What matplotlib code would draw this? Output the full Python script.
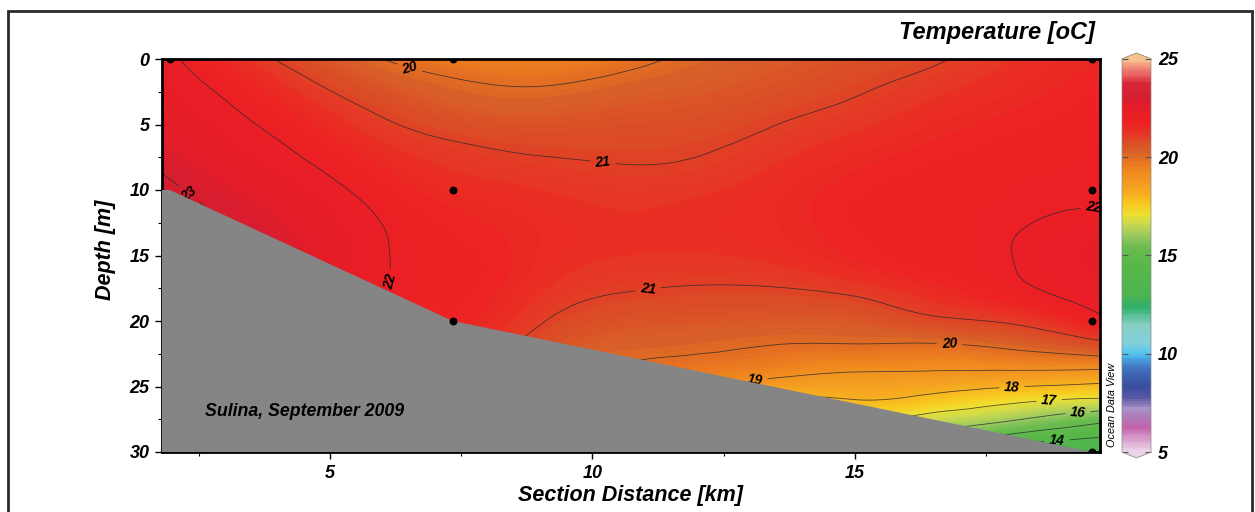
import numpy as np
import matplotlib
matplotlib.use('Agg')
import matplotlib.pyplot as plt
import matplotlib.tri as mtri
from matplotlib.colors import LinearSegmentedColormap
from matplotlib.patches import Rectangle

plt.rcParams['font.family'] = ['Liberation Sans', 'DejaVu Sans']

# section grid: distance along the transect (km) and depth (m)
distance_km = [1.8, 3.0, 4.5, 6.0, 7.5, 9.0, 10.5, 12.0, 13.5, 15.0, 16.5, 18.0, 19.67]
depth_m = [0, 2, 4, 6, 8, 10, 12, 14, 16, 18, 20, 22, 24, 26, 28, 30]

# gridded temperature (degC), one profile per distance, surface to 30 m
temp_c = [
    [22.2, 22.35, 22.5, 22.65, 22.9, 23.15, 23.3, 23.35, 23.35, 23.3, 23.25, 23.2, 23.1, 23.0, 22.9, 22.8],
    [21.5, 21.85, 22.1, 22.3, 22.5, 22.75, 22.95, 23.05, 23.1, 23.1, 23.05, 23.0, 22.9, 22.8, 22.7, 22.6],
    [20.7, 21.15, 21.5, 21.8, 22.05, 22.3, 22.5, 22.65, 22.75, 22.8, 22.8, 22.7, 22.6, 22.5, 22.4, 22.3],
    [20.0, 20.5, 20.92, 21.25, 21.55, 21.78, 21.96, 22.04, 22.05, 22.05, 22.0, 21.9, 21.8, 21.7, 21.6, 21.5],
    [19.55, 20.1, 20.5, 20.93, 21.22, 21.45, 21.62, 21.72, 21.78, 21.75, 21.65, 21.45, 21.1, 20.7, 20.3, 19.9],
    [19.45, 19.98, 20.4, 20.78, 21.08, 21.3, 21.45, 21.5, 21.45, 21.3, 21.05, 20.7, 20.3, 19.8, 19.2, 18.6],
    [19.75, 20.2, 20.55, 20.8, 21.0, 21.2, 21.32, 21.35, 21.22, 20.98, 20.62, 20.25, 19.8, 19.2, 18.5, 17.8],
    [20.15, 20.4, 20.65, 20.87, 21.05, 21.25, 21.37, 21.35, 21.18, 20.88, 20.52, 20.13, 19.55, 18.85, 18.0, 17.0],
    [20.4, 20.62, 20.88, 21.1, 21.3, 21.45, 21.5, 21.45, 21.25, 20.88, 20.45, 19.95, 19.2, 17.9, 16.8, 15.8],
    [20.66, 20.9, 21.12, 21.35, 21.55, 21.68, 21.72, 21.68, 21.5, 21.03, 20.5, 19.9, 18.95, 18.0, 16.7, 15.5],
    [20.93, 21.18, 21.4, 21.58, 21.72, 21.8, 21.84, 21.84, 21.75, 21.4, 20.85, 19.85, 18.9, 17.7, 16.3, 15.0],
    [21.3, 21.45, 21.6, 21.73, 21.83, 21.9, 21.95, 22.0, 21.99, 21.8, 21.1, 20.1, 18.83, 17.23, 15.64, 13.3],
    [21.6, 21.7, 21.8, 21.88, 21.93, 21.97, 22.05, 22.32, 22.35, 22.2, 21.85, 20.6, 18.7, 16.9, 14.8, 13.0],
]

# CTD casts
station_km = [1.95, 7.34, 7.34, 7.34, 19.51, 19.51, 19.51, 19.51]
station_depth = [0, 0, 10, 20, 0, 10, 20, 30]

# sea floor along the section
bottom_km = [1.8, 1.95, 7.34, 19.51, 19.67]
bottom_depth = [10, 10, 20, 30, 30]

contour_levels = [13, 14, 15, 16, 17, 18, 19, 20, 21, 22, 23]
cbar_ticks = [5, 10, 15, 20, 25]

# ODV-like temperature palette
palette = [
    (5.0, '#ecd4e8'), (5.6, '#d9a0cc'), (6.2, '#c462aa'), (6.8, '#b07cbc'),
    (7.2, '#a894c8'), (7.7, '#5c58a4'), (8.3, '#3a4d9e'), (9.2, '#4070bc'),
    (9.8, '#48a8e4'), (10.0, '#55c4ef'), (10.5, '#80d0dc'), (11.4, '#88d0c4'),
    (12.0, '#50bc90'), (12.4, '#30b068'), (13.0, '#4cb450'), (14.5, '#58b848'),
    (15.5, '#6cbc50'), (16.0, '#98c860'), (16.6, '#c8d850'), (17.1, '#f0e030'),
    (17.6, '#f8c820'), (18.3, '#f5a820'), (19.2, '#f08c20'), (19.8, '#e87420'),
    (20.3, '#d86028'), (20.9, '#dc4826'), (21.3, '#e83224'), (21.8, '#ee2024'),
    (22.6, '#e41c28'), (23.0, '#d41e30'), (23.8, '#d82838'), (24.2, '#e85a5c'),
    (24.6, '#f08a78'), (25.0, '#f6c28e'),
]
vmin, vmax = 5.0, 25.0
cmap = LinearSegmentedColormap.from_list(
    'odv_temp', [((v - vmin) / (vmax - vmin), c) for v, c in palette])
cmap.set_over('#f6c28e')
cmap.set_under('#ecd4e8')

# triangulate the regular grid and refine it with a smooth cubic fit
X, D = np.meshgrid(distance_km, depth_m)
T = np.array(temp_c).T
ny, nx = T.shape
idx = np.arange(ny * nx).reshape(ny, nx)
tris = []
for i in range(ny - 1):
    for j in range(nx - 1):
        a, b, c, d = idx[i, j], idx[i, j + 1], idx[i + 1, j], idx[i + 1, j + 1]
        tris.append([a, b, d])
        tris.append([a, d, c])
tri = mtri.Triangulation(X.ravel(), D.ravel(), np.array(tris))
refiner = mtri.UniformTriRefiner(tri)
tri_fine, T_fine = refiner.refine_field(T.ravel(), subdiv=4)

fig = plt.figure(figsize=(12.55, 5.12), dpi=100)
ax = fig.add_axes([162 / 1255, 1 - 452 / 512, 938 / 1255, 393 / 512])

cf = ax.tricontourf(tri_fine, T_fine, levels=np.arange(vmin, vmax + 0.01, 0.1),
                    cmap=cmap, vmin=vmin, vmax=vmax, extend='both', zorder=1)
cs = ax.tricontour(tri_fine, T_fine, levels=contour_levels, colors='#2a2a2a',
                   linewidths=0.6, alpha=0.8, zorder=2)

label_spots = [(6.5, 1.0), (10.2, 7.9), (6.3, 17.0), (19.55, 11.5), (11.06, 17.6),
               (16.8, 21.8), (13.1, 24.6), (17.99, 25.0), (18.7, 26.0),
               (19.25, 26.9), (18.85, 29.1), (2.3, 10.4)]
labels = ax.clabel(cs, manual=label_spots, inline=True, fmt='%d', fontsize=10)
for t in labels:
    t.set_fontweight('bold')
    t.set_fontstyle('italic')
    t.set_color('black')
    t.set_alpha(1)
    t.set_zorder(3)
    # the steep 22 isotherm on the left reads bottom to top
    if t.get_text() == '22' and t.get_position()[0] < 8:
        t.set_rotation(75)

# sea floor
ax.fill(bottom_km + [bottom_km[0]], bottom_depth + [max(depth_m)],
        color='#858585', lw=0, zorder=4)

ax.scatter(station_km, station_depth, s=22, c='k', zorder=6)

ax.set_xlim(distance_km[0], distance_km[-1])
ax.set_ylim(max(depth_m), 0)
ax.set_xticks([5, 10, 15])
ax.set_xticks([2.5, 7.5, 12.5, 17.5], minor=True)
ax.set_yticks([0, 5, 10, 15, 20, 25, 30])
ax.set_yticks(np.arange(2.5, 30, 5), minor=True)
ax.tick_params(which='major', direction='out', length=5, width=1, labelsize=13, pad=4)
ax.tick_params(which='minor', direction='out', length=3, width=0.8)
for t in ax.get_xticklabels() + ax.get_yticklabels():
    t.set_fontweight('bold')
    t.set_fontstyle('italic')
for s in ax.spines.values():
    s.set_linewidth(2)

fig.text(105 / 1255, 1 - 250 / 512, 'Depth [m]', rotation=90, ha='center', va='center',
         fontsize=15.5, fontweight='bold', fontstyle='italic')
fig.text(630 / 1255, 1 - 496 / 512, 'Section Distance [km]', ha='center', va='center',
         fontsize=15.5, fontweight='bold', fontstyle='italic')
fig.text(1095 / 1255, 1 - 33 / 512, 'Temperature [oC]', ha='right', va='center',
         fontsize=17, fontweight='bold', fontstyle='italic')
ax.text(205 / 1255, 1 - 412 / 512, 'Sulina, September 2009', transform=fig.transFigure,
        ha='left', va='center', fontsize=12.8, fontweight='bold', fontstyle='italic', zorder=7)
fig.text(1112 / 1255, 1 - 405 / 512, 'Ocean Data View', rotation=90, ha='center',
         va='center', fontsize=7.8, fontstyle='italic')

# colour bar with pointed ends
cax = fig.add_axes([1122 / 1255, 1 - 458 / 512, 29 / 1255, 405 / 512])
cb = fig.colorbar(cf, cax=cax, extend='both', extendfrac=0.015, ticks=cbar_ticks)
cb.outline.set_linewidth(0.5)
cb.outline.set_edgecolor('#888888')
cax.tick_params(direction='in', length=4, width=0.8, color='#555555',
                left=True, right=True, labelsize=13, pad=5)
for t in cax.get_yticklabels():
    t.set_fontweight('bold')
    t.set_fontstyle('italic')

# outer frame
fig.patches.append(Rectangle((8 / 1255, -0.1), 1244 / 1255, 1.1 - 11 / 512,
                             transform=fig.transFigure, fill=False,
                             edgecolor='#2b2b2b', lw=2))

fig.savefig('out.png', dpi=100)
